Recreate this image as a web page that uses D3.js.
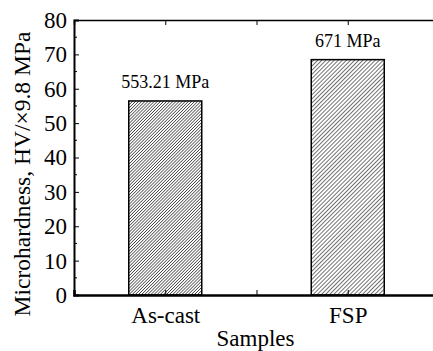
<!DOCTYPE html>
<meta charset="utf-8">
<style>
body { margin:0; background:#fff; }
svg text { font-family: "Liberation Serif", "Times New Roman", serif; fill:#000; }
.tick text { font-size:23px; }
</style>
<body>
<div id="chart"></div>
<script src="https://d3js.org/d3.v7.min.js"></script>
<script>
// data (HV, label in MPa)
var samples = ["As-cast", "FSP"];
var positions = [1, 3];
var hardness = [56.45, 68.47];
var barLabels = ["553.21 MPa", "671 MPa"];
var yTicks = [0, 10, 20, 30, 40, 50, 60, 70, 80];

var W = 433, H = 351;
var plotLeft = 74, plotTop = 20, plotBottom = 295;

var svg = d3.select("#chart").append("svg")
    .attr("width", W)
    .attr("height", H);

// x is a numeric position axis, categories sit at 1 and 3
var x = d3.scaleLinear().domain([0, 4]).range([plotLeft, plotLeft + 365]);
var y = d3.scaleLinear().domain([0, 80]).range([plotBottom, plotTop]);

// hatch patterns, the first bar is a bit denser
var defs = svg.append("defs");
[2.2, 2.9].forEach(function(s, i) {
  var p = defs.append("pattern")
      .attr("id", "hatch" + i)
      .attr("patternUnits", "userSpaceOnUse")
      .attr("width", s).attr("height", s)
      .attr("patternTransform", "rotate(45)");
  p.append("rect").attr("width", s).attr("height", s).attr("fill", "#fff");
  p.append("line")
      .attr("x1", 0).attr("y1", 0).attr("x2", 0).attr("y2", s)
      .attr("stroke", "#000").attr("stroke-width", 1.1);
});

var barW = x(0.8) - x(0);

svg.selectAll("rect.bar")
    .data(hardness)
  .enter().append("rect")
    .attr("class", "bar")
    .attr("x", function(d, i) { return x(positions[i]) - barW / 2; })
    .attr("y", function(d) { return y(d); })
    .attr("width", barW)
    .attr("height", function(d) { return y(0) - y(d); })
    .attr("fill", function(d, i) { return "url(#hatch" + i + ")"; })
    .attr("stroke", "#000")
    .attr("stroke-width", 1.5);

svg.selectAll("text.val")
    .data(hardness)
  .enter().append("text")
    .attr("class", "val")
    .attr("x", function(d, i) { return x(positions[i]); })
    .attr("y", function(d) { return y(d) - 12.5; })
    .attr("text-anchor", "middle")
    .style("font-size", "18px")
    .text(function(d, i) { return barLabels[i]; });

// y axis, ticks inward
var yAxis = svg.append("g")
    .attr("transform", "translate(" + plotLeft + ",0)")
    .call(d3.axisLeft(y).tickValues(yTicks).tickSize(-5).tickPadding(7));
yAxis.select(".domain").attr("stroke-width", 2);
// minor ticks
yAxis.selectAll("line.minor")
    .data(d3.range(5, 80, 10))
  .enter().append("line")
    .attr("class", "minor")
    .attr("x1", 0).attr("x2", 3)
    .attr("y1", function(d) { return y(d); })
    .attr("y2", function(d) { return y(d); })
    .attr("stroke", "#000");

// bottom axis
var xAxis = svg.append("g")
    .attr("transform", "translate(0," + plotBottom + ")")
    .call(d3.axisBottom(x).tickValues([1, 2, 3]).tickSize(-5).tickPadding(12)
      .tickFormat(function(d) { var i = positions.indexOf(d); return i < 0 ? "" : samples[i]; }));
xAxis.select(".domain").attr("stroke-width", 2.5);

// top frame line
var topAxis = svg.append("g")
    .attr("transform", "translate(0," + plotTop + ")")
    .call(d3.axisTop(x).tickValues([1, 2, 3]).tickSize(-5).tickFormat(""));
topAxis.select(".domain").attr("stroke-width", 1.5);

// axis titles
svg.append("text")
    .attr("x", 255.5)
    .attr("y", 346)
    .attr("text-anchor", "middle")
    .style("font-size", "23px")
    .text("Samples");

svg.append("text")
    .attr("transform", "translate(30,174) rotate(-90)")
    .attr("text-anchor", "middle")
    .style("font-size", "23.5px")
    .text("Microhardness, HV/\u00d79.8 MPa");
</script>
</body>
